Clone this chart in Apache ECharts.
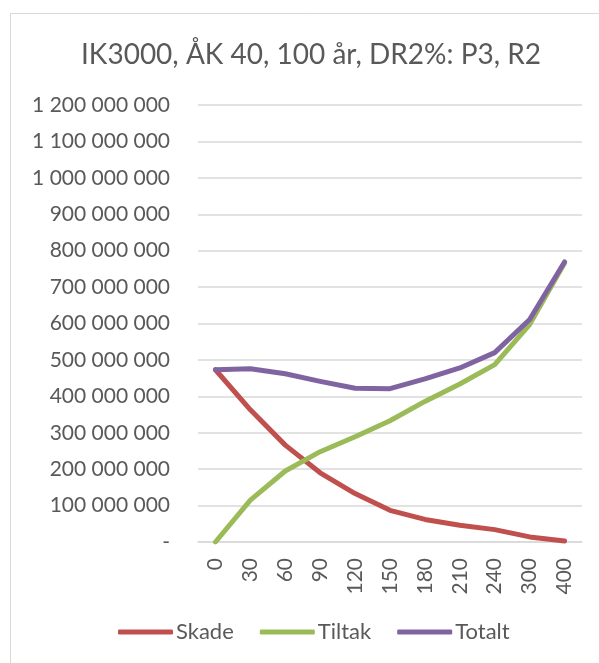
<!DOCTYPE html>
<html>
<head>
<meta charset="utf-8">
<script src="https://cdn.jsdelivr.net/npm/echarts@6/dist/echarts.min.js"></script>
<style>
  html, body { margin: 0; padding: 0; background: #fff; }
  #chart { width: 599px; height: 663px; }
</style>
</head>
<body>
<div id="chart"></div>
<script>
// Kostnader per tiltaksnivå
const categories = ['0', '30', '60', '90', '120', '150', '180', '210', '240', '300', '400'];
const skade  = [473e6, 363e6, 266e6, 190e6, 133e6, 87e6, 62e6, 46e6, 34e6, 14e6, 3e6];
const tiltak = [0, 115e6, 195e6, 248e6, 289e6, 333e6, 386e6, 434e6, 487e6, 597e6, 766e6];
const totalt = [473e6, 476e6, 462e6, 441e6, 422e6, 421e6, 448e6, 478e6, 520e6, 611e6, 769e6];
const seriesNames = ['Skade', 'Tiltak', 'Totalt'];
const seriesColors = ['#C0504D', '#9BBB59', '#8064A2'];

const FONT = 'Lato';
const TEXT = '#595959';

function fmt(v) {
  if (v === 0) return '-';
  return String(Math.round(v)).replace(/\B(?=(\d{3})+(?!\d))/g, ' ');
}

const chart = echarts.init(document.getElementById('chart'), null, { renderer: 'canvas' });

const values = [skade, tiltak, totalt];

chart.setOption({
  backgroundColor: '#fff',
  animation: false,
  textStyle: { fontFamily: FONT },
  graphic: [{
    type: 'rect',
    shape: { x: 10.5, y: 13.5, width: 620, height: 700 },
    style: { fill: 'none', stroke: '#d9d9d9', lineWidth: 1 },
    z: -1
  }],
  title: {
    text: 'IK3000, ÅK 40, 100 år, DR2%: P3, R2',
    left: 306,
    textAlign: 'center',
    top: 36,
    textStyle: { fontFamily: FONT, fontSize: 28, fontWeight: 'normal', color: TEXT }
  },
  legend: {
    data: seriesNames,
    bottom: 15,
    left: 113,
    itemWidth: 55,
    itemHeight: 5,
    itemGap: 26,
    icon: 'roundRect',
    textStyle: { fontFamily: FONT, fontSize: 22, color: TEXT, padding: [0, 0, 0, -2] }
  },
  grid: { left: 198, right: 17, top: 105, bottom: 121, containLabel: false },
  xAxis: {
    type: 'category',
    data: categories,
    boundaryGap: true,
    axisLine: { lineStyle: { color: '#d9d9d9', width: 1.5 } },
    axisTick: { show: false },
    axisLabel: { rotate: 90, margin: 16, fontFamily: FONT, fontSize: 21, color: TEXT }
  },
  yAxis: {
    type: 'value',
    min: 0,
    max: 1200e6,
    interval: 100e6,
    axisLine: { show: false },
    axisTick: { show: false },
    splitLine: { lineStyle: { color: '#d9d9d9', width: 1.5 } },
    axisLabel: { margin: 28, fontFamily: FONT, fontSize: 21, color: TEXT, formatter: fmt }
  },
  series: seriesNames.map((name, i) => ({
    name: name,
    type: 'line',
    data: values[i],
    symbol: 'none',
    color: seriesColors[i],
    lineStyle: { width: 5, color: seriesColors[i], cap: 'round', join: 'round' }
  }))
});
</script>
</body>
</html>
